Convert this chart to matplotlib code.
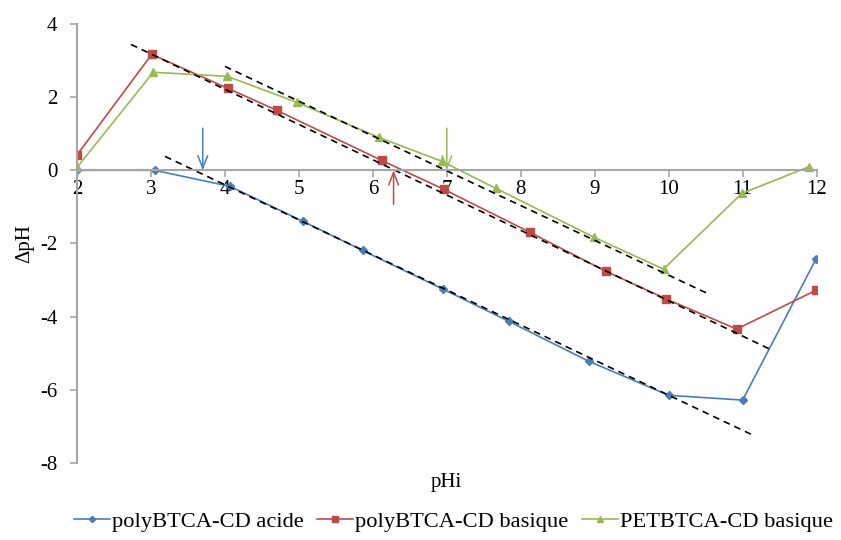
import matplotlib.pyplot as plt

# pHi / delta pH readings
acide_x = [2.0, 3.05, 4.07, 5.05, 5.86, 6.95, 7.84, 8.92, 10.0, 11.0, 11.99]
acide_y = [0.0, 0.0, -0.44, -1.39, -2.19, -3.25, -4.13, -5.22, -6.15, -6.28, -2.43]

basique_x = [2.0, 3.01, 4.04, 4.70, 6.12, 6.96, 8.12, 9.15, 9.97, 10.92, 11.99]
basique_y = [0.42, 3.17, 2.24, 1.64, 0.27, -0.52, -1.69, -2.76, -3.52, -4.34, -3.28]

pet_x = [2.0, 3.03, 4.03, 4.97, 6.08, 6.93, 7.66, 8.99, 9.93, 10.99, 11.9]
pet_y = [0.08, 2.68, 2.57, 1.86, 0.90, 0.25, -0.49, -1.83, -2.70, -0.63, 0.10]

# dashed fit lines (start, end)
fit_acide = ([3.19, 11.14], [0.38, -7.24])
fit_basique = ([2.73, 11.36], [3.44, -4.88])
fit_pet = ([4.0, 10.55], [2.84, -3.39])

# pH at zero charge arrows: x, y start
arrow_acide = (3.70, 1.15)
arrow_basique = (6.28, -0.93)
arrow_pet = (7.0, 1.15)

blue = '#4A7EBB'
red = '#BE4B48'
green = '#98B954'
axis_grey = '#A6A6A6'

plt.rcParams['font.family'] = ['Liberation Serif', 'DejaVu Serif']
plt.rcParams['axes.unicode_minus'] = False

fig = plt.figure(figsize=(8.41, 5.4), dpi=100)
ax = fig.add_axes([0.0916, 0.1426, 0.8794, 0.813])

ax.plot(acide_x, acide_y, color=blue, marker='D', markersize=4, lw=1.2,
        label='polyBTCA-CD acide')
ax.plot(basique_x, basique_y, color=red, marker='s', markersize=5.5, lw=1.2,
        label='polyBTCA-CD basique')
ax.plot(pet_x, pet_y, color=green, marker='^', markersize=6, lw=1.2,
        label='PETBTCA-CD basique')

for fx, fy in (fit_acide, fit_basique, fit_pet):
    ax.plot(fx, fy, color='black', lw=1.2, dashes=(4, 3))

for (ax_x, ax_y), c in ((arrow_acide, blue), (arrow_basique, red), (arrow_pet, green)):
    ax.annotate('', xy=(ax_x, 0), xytext=(ax_x, ax_y),
                arrowprops=dict(arrowstyle='->,head_length=0.9,head_width=0.35',
                                color=c, lw=1.1, shrinkA=0, shrinkB=0))

ax.set_xlim(2, 12)
ax.set_ylim(-8, 4)
ax.set_xticks(range(2, 13))
ax.set_yticks(range(-8, 5, 2))

ax.spines['top'].set_visible(False)
ax.spines['right'].set_visible(False)
ax.spines['bottom'].set_position(('data', 0))
for s in ('left', 'bottom'):
    ax.spines[s].set_color(axis_grey)
    ax.spines[s].set_linewidth(1.5)
ax.tick_params(axis='both', colors=axis_grey, labelcolor='black', labelsize=15,
               length=5, width=1.2)
ax.tick_params(axis='x', pad=2)
ax.tick_params(axis='y', pad=9)

ax.set_ylabel('ΔpH', fontsize=15, labelpad=4)
fig.text(0.531, 0.1056, 'pHi', fontsize=15, ha='center', va='center')

ax.legend(loc='center', bbox_to_anchor=(0.509, -0.134), ncol=3, frameon=False,
          fontsize=16.2, handlelength=1.6, handletextpad=0.1, columnspacing=0.6,
          markerscale=0.8)

fig.savefig('out.png', dpi=100)
